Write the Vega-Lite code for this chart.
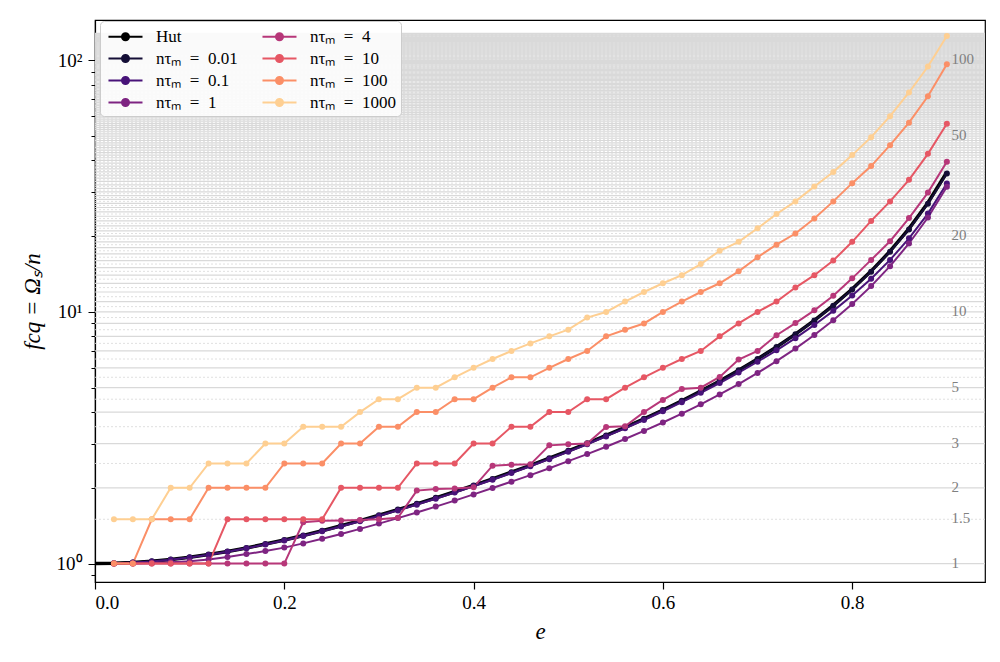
{
  "$schema": "https://vega.github.io/schema/vega-lite/v6.json",
  "autosize": "none",
  "width": 890,
  "height": 562,
  "padding": {"left": 95, "top": 20, "right": 15, "bottom": 80},
  "background": "white",
  "config": {
    "font": "Liberation Serif",
    "view": {"stroke": "black", "strokeWidth": 1.2}
  },
  "datasets": {
    "grid": [1,1.5,2,2.5,3,3.5,4,4.5,5,5.5,6,6.5,7,7.5,8,8.5,9,9.5,10,10.5,11,11.5,12,12.5,13,13.5,14,14.5,15,15.5,16,16.5,17,17.5,18,18.5,19,19.5,20,20.5,21,21.5,22,22.5,23,23.5,24,24.5,25,25.5,26,26.5,27,27.5,28,28.5,29,29.5,30,30.5,31,31.5,32,32.5,33,33.5,34,34.5,35,35.5,36,36.5,37,37.5,38,38.5,39,39.5,40,40.5,41,41.5,42,42.5,43,43.5,44,44.5,45,45.5,46,46.5,47,47.5,48,48.5,49,49.5,50,50.5,51,51.5,52,52.5,53,53.5,54,54.5,55,55.5,56,56.5,57,57.5,58,58.5,59,59.5,60,60.5,61,61.5,62,62.5,63,63.5,64,64.5,65,65.5,66,66.5,67,67.5,68,68.5,69,69.5,70,70.5,71,71.5,72,72.5,73,73.5,74,74.5,75,75.5,76,76.5,77,77.5,78,78.5,79,79.5,80,80.5,81,81.5,82,82.5,83,83.5,84,84.5,85,85.5,86,86.5,87,87.5,88,88.5,89,89.5,90,90.5,91,91.5,92,92.5,93,93.5,94,94.5,95,95.5,96,96.5,97,97.5,98,98.5,99,99.5,100,100.5,101,101.5,102,102.5,103,103.5,104,104.5,105,105.5,106,106.5,107,107.5,108,108.5,109,109.5,110,110.5,111,111.5,112,112.5,113,113.5,114,114.5,115,115.5,116,116.5,117,117.5,118,118.5,119,119.5,120,120.5,121,121.5,122,122.5,123,123.5,124,124.5,125,125.5,126,126.5,127,127.5,128],
    "gridlabels": [1, 1.5, 2, 3, 5, 10, 20, 50, 100],
    "hut": [
      {"e": 0, "f": 1}, {"e": 0.02, "f": 1.0024}, {"e": 0.04, "f": 1.0096}, {"e": 0.06, "f": 1.0216}, {"e": 0.08, "f": 1.0384},
      {"e": 0.1, "f": 1.0601}, {"e": 0.12, "f": 1.0865}, {"e": 0.14, "f": 1.1179}, {"e": 0.16, "f": 1.1542}, {"e": 0.18, "f": 1.1955},
      {"e": 0.2, "f": 1.2419}, {"e": 0.22, "f": 1.2936}, {"e": 0.24, "f": 1.3507}, {"e": 0.26, "f": 1.4134}, {"e": 0.28, "f": 1.4821},
      {"e": 0.3, "f": 1.5571}, {"e": 0.32, "f": 1.6389}, {"e": 0.34, "f": 1.7279}, {"e": 0.36, "f": 1.8247}, {"e": 0.38, "f": 1.9301},
      {"e": 0.4, "f": 2.0451}, {"e": 0.42, "f": 2.1705}, {"e": 0.44, "f": 2.3076}, {"e": 0.46, "f": 2.458}, {"e": 0.48, "f": 2.6232},
      {"e": 0.5, "f": 2.8053}, {"e": 0.52, "f": 3.007}, {"e": 0.54, "f": 3.2309}, {"e": 0.56, "f": 3.4809}, {"e": 0.58, "f": 3.7612},
      {"e": 0.6, "f": 4.0773}, {"e": 0.62, "f": 4.4358}, {"e": 0.64, "f": 4.8452}, {"e": 0.66, "f": 5.3161}, {"e": 0.68, "f": 5.8623},
      {"e": 0.7, "f": 6.5019}, {"e": 0.72, "f": 7.2585}, {"e": 0.74, "f": 8.1646}, {"e": 0.76, "f": 9.2647}, {"e": 0.78, "f": 10.622},
      {"e": 0.8, "f": 12.33}, {"e": 0.82, "f": 14.528}, {"e": 0.84, "f": 17.439}, {"e": 0.86, "f": 21.43}, {"e": 0.88, "f": 27.161},
      {"e": 0.9, "f": 35.906}
    ],
    "curves": [
      {"s": "0.01", "e": 0.02, "f": 1.0024}, {"s": "0.01", "e": 0.04, "f": 1.0096}, {"s": "0.01", "e": 0.06, "f": 1.0216}, {"s": "0.01", "e": 0.08, "f": 1.0384},
      {"s": "0.01", "e": 0.1, "f": 1.0601}, {"s": "0.01", "e": 0.12, "f": 1.0865}, {"s": "0.01", "e": 0.14, "f": 1.1179}, {"s": "0.01", "e": 0.16, "f": 1.1542},
      {"s": "0.01", "e": 0.18, "f": 1.1955}, {"s": "0.01", "e": 0.2, "f": 1.2419}, {"s": "0.01", "e": 0.22, "f": 1.2936}, {"s": "0.01", "e": 0.24, "f": 1.3507},
      {"s": "0.01", "e": 0.26, "f": 1.4134}, {"s": "0.01", "e": 0.28, "f": 1.4821}, {"s": "0.01", "e": 0.3, "f": 1.5571}, {"s": "0.01", "e": 0.32, "f": 1.6389},
      {"s": "0.01", "e": 0.34, "f": 1.7279}, {"s": "0.01", "e": 0.36, "f": 1.8247}, {"s": "0.01", "e": 0.38, "f": 1.9301}, {"s": "0.01", "e": 0.4, "f": 2.0451},
      {"s": "0.01", "e": 0.42, "f": 2.1705}, {"s": "0.01", "e": 0.44, "f": 2.3076}, {"s": "0.01", "e": 0.46, "f": 2.458}, {"s": "0.01", "e": 0.48, "f": 2.6232},
      {"s": "0.01", "e": 0.5, "f": 2.8053}, {"s": "0.01", "e": 0.52, "f": 3.007}, {"s": "0.01", "e": 0.54, "f": 3.2309}, {"s": "0.01", "e": 0.56, "f": 3.4809},
      {"s": "0.01", "e": 0.58, "f": 3.7612}, {"s": "0.01", "e": 0.6, "f": 4.0773}, {"s": "0.01", "e": 0.62, "f": 4.4358}, {"s": "0.01", "e": 0.64, "f": 4.8452},
      {"s": "0.01", "e": 0.66, "f": 5.3161}, {"s": "0.01", "e": 0.68, "f": 5.8623}, {"s": "0.01", "e": 0.7, "f": 6.5}, {"s": "0.01", "e": 0.72, "f": 7.25},
      {"s": "0.01", "e": 0.74, "f": 8.15}, {"s": "0.01", "e": 0.76, "f": 9.24}, {"s": "0.01", "e": 0.78, "f": 10.59}, {"s": "0.01", "e": 0.8, "f": 12.28},
      {"s": "0.01", "e": 0.82, "f": 14.46}, {"s": "0.01", "e": 0.84, "f": 17.34}, {"s": "0.01", "e": 0.86, "f": 21.28}, {"s": "0.01", "e": 0.88, "f": 26.93},
      {"s": "0.01", "e": 0.9, "f": 35.5},

      {"s": "0.1", "e": 0.02, "f": 1.002}, {"s": "0.1", "e": 0.04, "f": 1.009}, {"s": "0.1", "e": 0.06, "f": 1.02}, {"s": "0.1", "e": 0.08, "f": 1.036},
      {"s": "0.1", "e": 0.1, "f": 1.057}, {"s": "0.1", "e": 0.12, "f": 1.083}, {"s": "0.1", "e": 0.14, "f": 1.114}, {"s": "0.1", "e": 0.16, "f": 1.15},
      {"s": "0.1", "e": 0.18, "f": 1.19}, {"s": "0.1", "e": 0.2, "f": 1.236}, {"s": "0.1", "e": 0.22, "f": 1.287}, {"s": "0.1", "e": 0.24, "f": 1.343},
      {"s": "0.1", "e": 0.26, "f": 1.405}, {"s": "0.1", "e": 0.28, "f": 1.472}, {"s": "0.1", "e": 0.3, "f": 1.546}, {"s": "0.1", "e": 0.32, "f": 1.627},
      {"s": "0.1", "e": 0.34, "f": 1.715}, {"s": "0.1", "e": 0.36, "f": 1.811}, {"s": "0.1", "e": 0.38, "f": 1.915}, {"s": "0.1", "e": 0.4, "f": 2.029},
      {"s": "0.1", "e": 0.42, "f": 2.153}, {"s": "0.1", "e": 0.44, "f": 2.289}, {"s": "0.1", "e": 0.46, "f": 2.438}, {"s": "0.1", "e": 0.48, "f": 2.601},
      {"s": "0.1", "e": 0.5, "f": 2.781}, {"s": "0.1", "e": 0.52, "f": 2.98}, {"s": "0.1", "e": 0.54, "f": 3.201}, {"s": "0.1", "e": 0.56, "f": 3.447},
      {"s": "0.1", "e": 0.58, "f": 3.722}, {"s": "0.1", "e": 0.6, "f": 4.031}, {"s": "0.1", "e": 0.62, "f": 4.379}, {"s": "0.1", "e": 0.64, "f": 4.77},
      {"s": "0.1", "e": 0.66, "f": 5.22}, {"s": "0.1", "e": 0.68, "f": 5.74}, {"s": "0.1", "e": 0.7, "f": 6.34}, {"s": "0.1", "e": 0.72, "f": 7.04},
      {"s": "0.1", "e": 0.74, "f": 7.87}, {"s": "0.1", "e": 0.76, "f": 8.88}, {"s": "0.1", "e": 0.78, "f": 10.1}, {"s": "0.1", "e": 0.8, "f": 11.62},
      {"s": "0.1", "e": 0.82, "f": 13.55}, {"s": "0.1", "e": 0.84, "f": 16.1}, {"s": "0.1", "e": 0.86, "f": 19.62}, {"s": "0.1", "e": 0.88, "f": 24.6},
      {"s": "0.1", "e": 0.9, "f": 32.4},

      {"s": "1", "e": 0.02, "f": 1.0}, {"s": "1", "e": 0.04, "f": 1.0015}, {"s": "1", "e": 0.06, "f": 1.0053}, {"s": "1", "e": 0.08, "f": 1.0114},
      {"s": "1", "e": 0.1, "f": 1.0209}, {"s": "1", "e": 0.12, "f": 1.0376}, {"s": "1", "e": 0.14, "f": 1.062}, {"s": "1", "e": 0.16, "f": 1.0907},
      {"s": "1", "e": 0.18, "f": 1.1214}, {"s": "1", "e": 0.2, "f": 1.1575}, {"s": "1", "e": 0.22, "f": 1.203}, {"s": "1", "e": 0.24, "f": 1.2562},
      {"s": "1", "e": 0.26, "f": 1.3116}, {"s": "1", "e": 0.28, "f": 1.3739}, {"s": "1", "e": 0.3, "f": 1.4419}, {"s": "1", "e": 0.32, "f": 1.516},
      {"s": "1", "e": 0.34, "f": 1.5966}, {"s": "1", "e": 0.36, "f": 1.6842}, {"s": "1", "e": 0.38, "f": 1.7796}, {"s": "1", "e": 0.4, "f": 1.8835},
      {"s": "1", "e": 0.42, "f": 1.9969}, {"s": "1", "e": 0.44, "f": 2.1161}, {"s": "1", "e": 0.46, "f": 2.2466}, {"s": "1", "e": 0.48, "f": 2.3924},
      {"s": "1", "e": 0.5, "f": 2.5528}, {"s": "1", "e": 0.52, "f": 2.7243}, {"s": "1", "e": 0.54, "f": 2.9143}, {"s": "1", "e": 0.56, "f": 3.1258},
      {"s": "1", "e": 0.58, "f": 3.3663}, {"s": "1", "e": 0.6, "f": 3.637}, {"s": "1", "e": 0.62, "f": 3.9434}, {"s": "1", "e": 0.64, "f": 4.2928},
      {"s": "1", "e": 0.66, "f": 4.6994}, {"s": "1", "e": 0.68, "f": 5.1705}, {"s": "1", "e": 0.7, "f": 5.7217}, {"s": "1", "e": 0.72, "f": 6.373},
      {"s": "1", "e": 0.74, "f": 7.1522}, {"s": "1", "e": 0.76, "f": 8.0973}, {"s": "1", "e": 0.78, "f": 9.273}, {"s": "1", "e": 0.8, "f": 10.752},
      {"s": "1", "e": 0.82, "f": 12.668}, {"s": "1", "e": 0.84, "f": 15.207}, {"s": "1", "e": 0.86, "f": 18.708}, {"s": "1", "e": 0.88, "f": 23.739},
      {"s": "1", "e": 0.9, "f": 31.418},

      {"s": "4", "e": 0.02, "f": 1}, {"s": "4", "e": 0.04, "f": 1}, {"s": "4", "e": 0.06, "f": 1}, {"s": "4", "e": 0.08, "f": 1},
      {"s": "4", "e": 0.1, "f": 1}, {"s": "4", "e": 0.12, "f": 1}, {"s": "4", "e": 0.14, "f": 1}, {"s": "4", "e": 0.16, "f": 1},
      {"s": "4", "e": 0.18, "f": 1}, {"s": "4", "e": 0.2, "f": 1}, {"s": "4", "e": 0.22, "f": 1.46}, {"s": "4", "e": 0.24, "f": 1.48},
      {"s": "4", "e": 0.26, "f": 1.485}, {"s": "4", "e": 0.28, "f": 1.49}, {"s": "4", "e": 0.3, "f": 1.5}, {"s": "4", "e": 0.32, "f": 1.52},
      {"s": "4", "e": 0.34, "f": 1.95}, {"s": "4", "e": 0.36, "f": 1.98}, {"s": "4", "e": 0.38, "f": 1.99}, {"s": "4", "e": 0.4, "f": 2.01},
      {"s": "4", "e": 0.42, "f": 2.45}, {"s": "4", "e": 0.44, "f": 2.47}, {"s": "4", "e": 0.46, "f": 2.48}, {"s": "4", "e": 0.48, "f": 2.95},
      {"s": "4", "e": 0.5, "f": 2.98}, {"s": "4", "e": 0.52, "f": 3.0}, {"s": "4", "e": 0.54, "f": 3.49}, {"s": "4", "e": 0.56, "f": 3.51},
      {"s": "4", "e": 0.58, "f": 4.0}, {"s": "4", "e": 0.6, "f": 4.47}, {"s": "4", "e": 0.62, "f": 4.94}, {"s": "4", "e": 0.64, "f": 5.0},
      {"s": "4", "e": 0.66, "f": 5.52}, {"s": "4", "e": 0.68, "f": 6.47}, {"s": "4", "e": 0.7, "f": 7.0}, {"s": "4", "e": 0.72, "f": 8.08},
      {"s": "4", "e": 0.74, "f": 9.03}, {"s": "4", "e": 0.76, "f": 10.15}, {"s": "4", "e": 0.78, "f": 11.6}, {"s": "4", "e": 0.8, "f": 13.6},
      {"s": "4", "e": 0.82, "f": 16.1}, {"s": "4", "e": 0.84, "f": 19.1}, {"s": "4", "e": 0.86, "f": 23.6}, {"s": "4", "e": 0.88, "f": 29.8},
      {"s": "4", "e": 0.9, "f": 39.5},

      {"s": "10", "e": 0.02, "f": 1}, {"s": "10", "e": 0.04, "f": 1}, {"s": "10", "e": 0.06, "f": 1}, {"s": "10", "e": 0.08, "f": 1},
      {"s": "10", "e": 0.1, "f": 1}, {"s": "10", "e": 0.12, "f": 1}, {"s": "10", "e": 0.14, "f": 1.5}, {"s": "10", "e": 0.16, "f": 1.5},
      {"s": "10", "e": 0.18, "f": 1.5}, {"s": "10", "e": 0.2, "f": 1.5}, {"s": "10", "e": 0.22, "f": 1.5}, {"s": "10", "e": 0.24, "f": 1.5},
      {"s": "10", "e": 0.26, "f": 2}, {"s": "10", "e": 0.28, "f": 2}, {"s": "10", "e": 0.3, "f": 2}, {"s": "10", "e": 0.32, "f": 2},
      {"s": "10", "e": 0.34, "f": 2.5}, {"s": "10", "e": 0.36, "f": 2.5}, {"s": "10", "e": 0.38, "f": 2.5}, {"s": "10", "e": 0.4, "f": 3},
      {"s": "10", "e": 0.42, "f": 3}, {"s": "10", "e": 0.44, "f": 3.5}, {"s": "10", "e": 0.46, "f": 3.5}, {"s": "10", "e": 0.48, "f": 4},
      {"s": "10", "e": 0.5, "f": 4}, {"s": "10", "e": 0.52, "f": 4.5}, {"s": "10", "e": 0.54, "f": 4.5}, {"s": "10", "e": 0.56, "f": 5},
      {"s": "10", "e": 0.58, "f": 5.5}, {"s": "10", "e": 0.6, "f": 6}, {"s": "10", "e": 0.62, "f": 6.5}, {"s": "10", "e": 0.64, "f": 7},
      {"s": "10", "e": 0.66, "f": 8}, {"s": "10", "e": 0.68, "f": 9}, {"s": "10", "e": 0.7, "f": 10}, {"s": "10", "e": 0.72, "f": 11},
      {"s": "10", "e": 0.74, "f": 12.5}, {"s": "10", "e": 0.76, "f": 14}, {"s": "10", "e": 0.78, "f": 16}, {"s": "10", "e": 0.8, "f": 19},
      {"s": "10", "e": 0.82, "f": 23}, {"s": "10", "e": 0.84, "f": 27.5}, {"s": "10", "e": 0.86, "f": 33.5}, {"s": "10", "e": 0.88, "f": 42.5},
      {"s": "10", "e": 0.9, "f": 56},

      {"s": "100", "e": 0.02, "f": 1}, {"s": "100", "e": 0.04, "f": 1}, {"s": "100", "e": 0.06, "f": 1.5}, {"s": "100", "e": 0.08, "f": 1.5},
      {"s": "100", "e": 0.1, "f": 1.5}, {"s": "100", "e": 0.12, "f": 2}, {"s": "100", "e": 0.14, "f": 2}, {"s": "100", "e": 0.16, "f": 2},
      {"s": "100", "e": 0.18, "f": 2}, {"s": "100", "e": 0.2, "f": 2.5}, {"s": "100", "e": 0.22, "f": 2.5}, {"s": "100", "e": 0.24, "f": 2.5},
      {"s": "100", "e": 0.26, "f": 3}, {"s": "100", "e": 0.28, "f": 3}, {"s": "100", "e": 0.3, "f": 3.5}, {"s": "100", "e": 0.32, "f": 3.5},
      {"s": "100", "e": 0.34, "f": 4}, {"s": "100", "e": 0.36, "f": 4}, {"s": "100", "e": 0.38, "f": 4.5}, {"s": "100", "e": 0.4, "f": 4.5},
      {"s": "100", "e": 0.42, "f": 5}, {"s": "100", "e": 0.44, "f": 5.5}, {"s": "100", "e": 0.46, "f": 5.5}, {"s": "100", "e": 0.48, "f": 6},
      {"s": "100", "e": 0.5, "f": 6.5}, {"s": "100", "e": 0.52, "f": 7}, {"s": "100", "e": 0.54, "f": 8}, {"s": "100", "e": 0.56, "f": 8.5},
      {"s": "100", "e": 0.58, "f": 9}, {"s": "100", "e": 0.6, "f": 10}, {"s": "100", "e": 0.62, "f": 11}, {"s": "100", "e": 0.64, "f": 12},
      {"s": "100", "e": 0.66, "f": 13}, {"s": "100", "e": 0.68, "f": 14.5}, {"s": "100", "e": 0.7, "f": 16.5}, {"s": "100", "e": 0.72, "f": 18.5},
      {"s": "100", "e": 0.74, "f": 20.5}, {"s": "100", "e": 0.76, "f": 23.5}, {"s": "100", "e": 0.78, "f": 27.5}, {"s": "100", "e": 0.8, "f": 32.5},
      {"s": "100", "e": 0.82, "f": 38}, {"s": "100", "e": 0.84, "f": 46}, {"s": "100", "e": 0.86, "f": 56.5}, {"s": "100", "e": 0.88, "f": 72},
      {"s": "100", "e": 0.9, "f": 96.5},

      {"s": "1000", "e": 0.02, "f": 1.5}, {"s": "1000", "e": 0.04, "f": 1.5}, {"s": "1000", "e": 0.06, "f": 1.5}, {"s": "1000", "e": 0.08, "f": 2},
      {"s": "1000", "e": 0.1, "f": 2}, {"s": "1000", "e": 0.12, "f": 2.5}, {"s": "1000", "e": 0.14, "f": 2.5}, {"s": "1000", "e": 0.16, "f": 2.5},
      {"s": "1000", "e": 0.18, "f": 3}, {"s": "1000", "e": 0.2, "f": 3}, {"s": "1000", "e": 0.22, "f": 3.5}, {"s": "1000", "e": 0.24, "f": 3.5},
      {"s": "1000", "e": 0.26, "f": 3.5}, {"s": "1000", "e": 0.28, "f": 4}, {"s": "1000", "e": 0.3, "f": 4.5}, {"s": "1000", "e": 0.32, "f": 4.5},
      {"s": "1000", "e": 0.34, "f": 5}, {"s": "1000", "e": 0.36, "f": 5}, {"s": "1000", "e": 0.38, "f": 5.5}, {"s": "1000", "e": 0.4, "f": 6},
      {"s": "1000", "e": 0.42, "f": 6.5}, {"s": "1000", "e": 0.44, "f": 7}, {"s": "1000", "e": 0.46, "f": 7.5}, {"s": "1000", "e": 0.48, "f": 8},
      {"s": "1000", "e": 0.5, "f": 8.5}, {"s": "1000", "e": 0.52, "f": 9.5}, {"s": "1000", "e": 0.54, "f": 10}, {"s": "1000", "e": 0.56, "f": 11},
      {"s": "1000", "e": 0.58, "f": 12}, {"s": "1000", "e": 0.6, "f": 13}, {"s": "1000", "e": 0.62, "f": 14}, {"s": "1000", "e": 0.64, "f": 15.5},
      {"s": "1000", "e": 0.66, "f": 17.5}, {"s": "1000", "e": 0.68, "f": 19}, {"s": "1000", "e": 0.7, "f": 21.5}, {"s": "1000", "e": 0.72, "f": 24.5},
      {"s": "1000", "e": 0.74, "f": 27.5}, {"s": "1000", "e": 0.76, "f": 31.5}, {"s": "1000", "e": 0.78, "f": 36}, {"s": "1000", "e": 0.8, "f": 42},
      {"s": "1000", "e": 0.82, "f": 49.5}, {"s": "1000", "e": 0.84, "f": 60}, {"s": "1000", "e": 0.86, "f": 74.5}, {"s": "1000", "e": 0.88, "f": 94.5},
      {"s": "1000", "e": 0.9, "f": 125}
    ]
  },
  "layer": [
    {
      "data": {"name": "grid"},
      "transform": [{"filter": "datum.data % 1 !== 0"}],
      "mark": {"type": "rule", "color": "#dddddd", "strokeWidth": 0.9, "strokeDash": [2, 2]},
      "encoding": {
        "y": {
          "field": "data", "type": "quantitative",
          "scale": {"type": "log", "domain": [0.845, 144.6], "nice": false},
          "axis": {
            "title": "fcq = Ωₛ/n", "titleFontStyle": "italic", "titleFontWeight": "normal", "titleFontSize": 23, "titleFont": "Liberation Serif", "titlePadding": 12, "titleColor": "black",
            "values": [0.9, 1, 2, 3, 4, 5, 6, 7, 8, 9, 10, 20, 30, 40, 50, 60, 70, 80, 90, 100],
            "labelExpr": "datum.value == 1 ? '10⁰' : datum.value == 10 ? '10¹' : datum.value == 100 ? '10²' : ''",
            "labelFontSize": 19, "labelFont": "Liberation Serif", "labelColor": "black", "labelPadding": 6,
            "tickSize": {"condition": {"test": "datum.value == 1 || datum.value == 10 || datum.value == 100", "value": 7}, "value": 4},
            "tickWidth": 1, "tickColor": "black", "domainColor": "black", "domainWidth": 1.2, "grid": false
          }
        }
      }
    },
    {
      "data": {"name": "grid"},
      "transform": [{"filter": "datum.data % 1 === 0"}],
      "mark": {"type": "rule", "color": "#d9d9d9", "strokeWidth": 1.2},
      "encoding": {
        "y": {"field": "data", "type": "quantitative"}
      }
    },
    {
      "data": {"name": "gridlabels"},
      "mark": {"type": "text", "align": "left", "baseline": "middle", "font": "Liberation Serif", "fontSize": 15, "color": "#808080", "dy": -1},
      "encoding": {
        "x": {"datum": 0.905, "type": "quantitative"},
        "y": {"field": "data", "type": "quantitative"},
        "text": {"field": "data", "type": "nominal"}
      }
    },
    {
      "data": {"name": "hut"},
      "mark": {"type": "line", "color": "black", "strokeWidth": 3.5},
      "encoding": {
        "x": {
          "field": "e", "type": "quantitative",
          "scale": {"domain": [0, 0.9403], "nice": false, "zero": false},
          "axis": {
            "title": "e", "titleFontStyle": "italic", "titleFontWeight": "normal", "titleFontSize": 23, "titleFont": "Liberation Serif", "titlePadding": 8, "titleColor": "black",
            "values": [0, 0.2, 0.4, 0.6, 0.8], "format": ".1f",
            "labelFontSize": 19, "labelFont": "Liberation Serif", "labelColor": "black", "labelPadding": 4,
            "tickSize": 7, "tickWidth": 1.2, "tickColor": "black", "domainColor": "black", "domainWidth": 1.2, "grid": false
          }
        },
        "y": {"field": "f", "type": "quantitative"}
      }
    },
    {
      "data": {"name": "curves"},
      "mark": {"type": "line", "strokeWidth": 2, "point": {"filled": true, "size": 36, "opacity": 1}},
      "encoding": {
        "x": {"field": "e", "type": "quantitative"},
        "y": {"field": "f", "type": "quantitative"},
        "color": {
          "field": "s", "type": "nominal",
          "scale": {
            "domain": ["Hut", "0.01", "0.1", "1", "4", "10", "100", "1000"],
            "range": ["#000000", "#140e36", "#481379", "#7e2482", "#b73779", "#e65764", "#fb8f67", "#fecf92"]
          },
          "legend": {
            "title": null,
            "orient": "none",
            "legendX": 5,
            "legendY": 1,
            "columns": 2,
            "columnPadding": 20,
            "rowPadding": 3,
            "padding": 5,
            "symbolType": "M-0.78,0H3M0.73,0A0.38,0.38,0,1,1,1.49,0A0.38,0.38,0,1,1,0.73,0Z",
            "symbolSize": 324,
            "symbolStrokeWidth": 2.2,
            "labelFont": "Liberation Serif",
            "labelFontSize": 17,
            "labelColor": "black",
            "labelOffset": 30,
            "fillColor": "rgba(255,255,255,0.85)",
            "strokeColor": "#cccccc",
            "cornerRadius": 4,
            "labelExpr": "datum.label == 'Hut' ? 'Hut' : 'nτₘ\u2002=\u2002' + datum.label"
          }
        }
      }
    }
  ]
}
